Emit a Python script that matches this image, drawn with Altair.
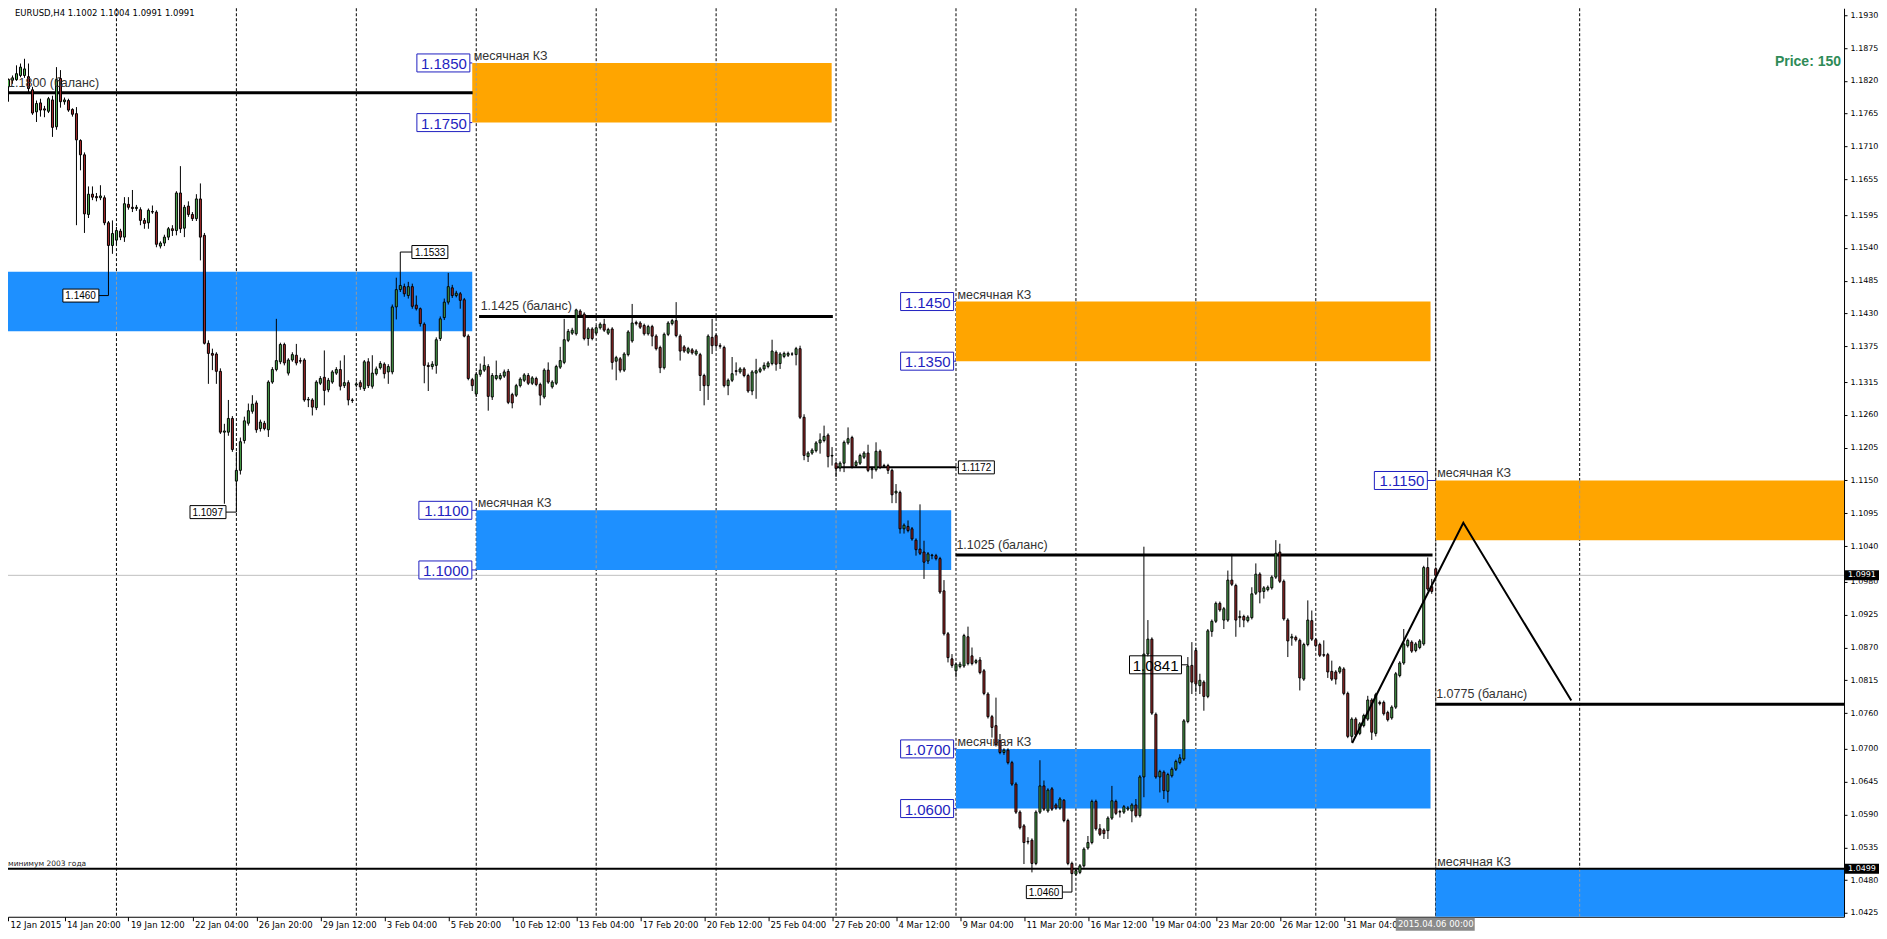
import altair as alt
import pandas as pd

# ---------------- data ----------------
bar_open = [
    1.1857, 1.1877, 1.1810, 1.1821, 1.1822, 1.1829, 1.1829, 1.1827, 1.1805, 1.1768,
    1.1783, 1.1773, 1.1769, 1.1788, 1.1743, 1.1824, 1.1785, 1.1787, 1.1772, 1.1765,
    1.1720, 1.1696, 1.1596, 1.1630, 1.1626, 1.1624, 1.1624, 1.1582, 1.1544, 1.1553,
    1.1568, 1.1558, 1.1613, 1.1608, 1.1606, 1.1604, 1.1586, 1.1582, 1.1601, 1.1600,
    1.1543, 1.1548, 1.1558, 1.1572, 1.1569, 1.1632, 1.1573, 1.1610, 1.1596, 1.1589,
    1.1622, 1.1561, 1.1380, 1.1363, 1.1362, 1.1333, 1.1231, 1.1231, 1.1254, 1.1149,
    1.1167, 1.1217, 1.1246, 1.1266, 1.1280, 1.1237, 1.1246, 1.1235, 1.1315, 1.1336,
    1.1349, 1.1378, 1.1330, 1.1352, 1.1360, 1.1351, 1.1352, 1.1285, 1.1285, 1.1272,
    1.1313, 1.1323, 1.1302, 1.1315, 1.1330, 1.1336, 1.1309, 1.1314, 1.1285, 1.1310,
    1.1314, 1.1304, 1.1349, 1.1308, 1.1329, 1.1339, 1.1345, 1.1332, 1.1332, 1.1441,
    1.1470, 1.1475, 1.1460, 1.1475, 1.1444, 1.1438, 1.1412, 1.1343, 1.1341, 1.1343,
    1.1388, 1.1423, 1.1449, 1.1473, 1.1460, 1.1463, 1.1453, 1.1392, 1.1319, 1.1295,
    1.1328, 1.1335, 1.1341, 1.1290, 1.1321, 1.1321, 1.1325, 1.1333, 1.1294, 1.1293,
    1.1309, 1.1318, 1.1326, 1.1313, 1.1321, 1.1311, 1.1290, 1.1335, 1.1307, 1.1313,
    1.1340, 1.1348, 1.1385, 1.1397, 1.1396, 1.1434, 1.1429, 1.1388, 1.1404, 1.1397,
    1.1406, 1.1412, 1.1397, 1.1404, 1.1350, 1.1354, 1.1335, 1.1361, 1.1384, 1.1415,
    1.1414, 1.1410, 1.1396, 1.1408, 1.1392, 1.1373, 1.1339, 1.1395, 1.1413, 1.1418,
    1.1392, 1.1374, 1.1365, 1.1369, 1.1362, 1.1361, 1.1326, 1.1309, 1.1390, 1.1393,
    1.1376, 1.1373, 1.1309, 1.1318, 1.1334, 1.1332, 1.1337, 1.1326, 1.1300, 1.1330,
    1.1333, 1.1337, 1.1341, 1.1346, 1.1365, 1.1346, 1.1358, 1.1360, 1.1362, 1.1361,
    1.1371, 1.1256, 1.1190, 1.1196, 1.1200, 1.1213, 1.1217, 1.1226, 1.1191, 1.1179,
    1.1171, 1.1179, 1.1213, 1.1222, 1.1175, 1.1179, 1.1189, 1.1196, 1.1168, 1.1168,
    1.1199, 1.1174, 1.1175, 1.1167, 1.1129, 1.1130, 1.1069, 1.1073, 1.1069, 1.1050,
    1.1035, 1.1030, 1.1015, 1.1024, 1.1024, 1.1019, 1.0965, 1.0893, 1.0851, 1.0831,
    1.0838, 1.0839, 1.0888, 1.0856, 1.0845, 1.0849, 1.0831, 1.0792, 1.0754, 1.0739,
    1.0714, 1.0694, 1.0698, 1.0677, 1.0641, 1.0594, 1.0571, 1.0545, 1.0547, 1.0508,
    1.0594, 1.0638, 1.0596, 1.0633, 1.0606, 1.0601, 1.0614, 1.0580, 1.0508, 1.0490,
    1.0493, 1.0504, 1.0534, 1.0543, 1.0612, 1.0566, 1.0564, 1.0563, 1.0584, 1.0612,
    1.0594, 1.0594, 1.0599, 1.0596, 1.0606, 1.0588, 1.0653, 1.0859, 1.0884, 1.0758,
    1.0653, 1.0661, 1.0629, 1.0655, 1.0666, 1.0677, 1.0683, 1.0746, 1.0840, 1.0865,
    1.0806, 1.0812, 1.0788, 1.0897, 1.0914, 1.0944, 1.0916, 1.0916, 1.0983, 1.0974,
    1.0920, 1.0922, 1.0915, 1.0920, 1.0961, 1.0993, 1.0964, 1.0967, 1.0970, 1.0988,
    1.1030, 1.0981, 1.0916, 1.0886, 1.0887, 1.0882, 1.0817, 1.0875, 1.0915, 1.0883,
    1.0875, 1.0858, 1.0858, 1.0830, 1.0829, 1.0829, 1.0834, 1.0793, 1.0721, 1.0750,
    1.0726, 1.0739, 1.0750, 1.0782, 1.0726, 1.0778, 1.0778, 1.0761, 1.0752, 1.0770,
    1.0823, 1.0844, 1.0873, 1.0879, 1.0865, 1.0870, 1.0876, 1.1004, 1.0972, 1.1002,
]
bar_high = [
    1.1868, 1.1880, 1.1824, 1.1829, 1.1846, 1.1849, 1.1857, 1.1849, 1.1810, 1.1787,
    1.1790, 1.1778, 1.1793, 1.1795, 1.1843, 1.1838, 1.1792, 1.1790, 1.1774, 1.1776,
    1.1722, 1.1700, 1.1643, 1.1643, 1.1632, 1.1645, 1.1628, 1.1585, 1.1586, 1.1575,
    1.1572, 1.1625, 1.1625, 1.1637, 1.1612, 1.1608, 1.1590, 1.1606, 1.1611, 1.1603,
    1.1551, 1.1562, 1.1575, 1.1578, 1.1635, 1.1677, 1.1612, 1.1618, 1.1600, 1.1630,
    1.1648, 1.1565, 1.1385, 1.1371, 1.1365, 1.1338, 1.1245, 1.1285, 1.1258, 1.1198,
    1.1222, 1.1257, 1.1279, 1.1293, 1.1284, 1.1252, 1.1250, 1.1318, 1.1340, 1.1421,
    1.1381, 1.1381, 1.1355, 1.1365, 1.1379, 1.1356, 1.1355, 1.1290, 1.1288, 1.1318,
    1.1325, 1.1368, 1.1322, 1.1335, 1.1340, 1.1351, 1.1360, 1.1318, 1.1288, 1.1316,
    1.1318, 1.1352, 1.1355, 1.1360, 1.1341, 1.1350, 1.1348, 1.1345, 1.1445, 1.1490,
    1.1533, 1.1480, 1.1483, 1.1480, 1.1460, 1.1440, 1.1415, 1.1348, 1.1350, 1.1390,
    1.1425, 1.1455, 1.1498, 1.1478, 1.1468, 1.1466, 1.1456, 1.1395, 1.1322, 1.1332,
    1.1346, 1.1358, 1.1345, 1.1330, 1.1351, 1.1330, 1.1336, 1.1337, 1.1297, 1.1312,
    1.1323, 1.1330, 1.1330, 1.1325, 1.1324, 1.1314, 1.1338, 1.1348, 1.1318, 1.1344,
    1.1374, 1.1421, 1.1404, 1.1406, 1.1438, 1.1437, 1.1432, 1.1407, 1.1407, 1.1410,
    1.1415, 1.1421, 1.1406, 1.1407, 1.1359, 1.1357, 1.1365, 1.1402, 1.1446, 1.1418,
    1.1417, 1.1413, 1.1411, 1.1411, 1.1395, 1.1376, 1.1398, 1.1417, 1.1421, 1.1449,
    1.1395, 1.1377, 1.1374, 1.1372, 1.1370, 1.1364, 1.1329, 1.1395, 1.1421, 1.1396,
    1.1380, 1.1376, 1.1321, 1.1357, 1.1348, 1.1340, 1.1340, 1.1329, 1.1335, 1.1354,
    1.1340, 1.1348, 1.1350, 1.1386, 1.1368, 1.1365, 1.1366, 1.1366, 1.1365, 1.1374,
    1.1376, 1.1261, 1.1199, 1.1204, 1.1216, 1.1229, 1.1242, 1.1229, 1.1206, 1.1182,
    1.1182, 1.1217, 1.1239, 1.1225, 1.1184, 1.1195, 1.1199, 1.1210, 1.1173, 1.1214,
    1.1202, 1.1178, 1.1178, 1.1170, 1.1144, 1.1133, 1.1078, 1.1083, 1.1072, 1.1053,
    1.1110, 1.1049, 1.1030, 1.1027, 1.1027, 1.1022, 1.0983, 1.0896, 1.0859, 1.0845,
    1.0846, 1.0893, 1.0905, 1.0870, 1.0851, 1.0854, 1.0834, 1.0795, 1.0757, 1.0786,
    1.0725, 1.0701, 1.0701, 1.0680, 1.0644, 1.0597, 1.0574, 1.0552, 1.0550, 1.0597,
    1.0681, 1.0647, 1.0634, 1.0636, 1.0609, 1.0619, 1.0616, 1.0583, 1.0511, 1.0499,
    1.0507, 1.0535, 1.0554, 1.0615, 1.0615, 1.0574, 1.0567, 1.0587, 1.0638, 1.0615,
    1.0598, 1.0606, 1.0604, 1.0609, 1.0616, 1.0656, 1.1039, 1.0916, 1.0887, 1.0761,
    1.0665, 1.0664, 1.0660, 1.0669, 1.0682, 1.0691, 1.0750, 1.0854, 1.0879, 1.0870,
    1.0826, 1.0815, 1.0901, 1.0917, 1.0947, 1.0947, 1.0938, 1.0999, 1.1027, 1.0977,
    1.0932, 1.0925, 1.0924, 1.0971, 1.1011, 1.0996, 1.0973, 1.0974, 1.0991, 1.1050,
    1.1044, 1.0984, 1.0919, 1.0893, 1.0890, 1.0885, 1.0878, 1.0949, 1.0932, 1.0886,
    1.0878, 1.0882, 1.0861, 1.0848, 1.0832, 1.0839, 1.0837, 1.0796, 1.0753, 1.0753,
    1.0745, 1.0759, 1.0789, 1.0785, 1.0794, 1.0781, 1.0781, 1.0764, 1.0773, 1.0829,
    1.0847, 1.0901, 1.0885, 1.0882, 1.0879, 1.0884, 1.1007, 1.1021, 1.0985, 1.1004,
]
bar_low = [
    1.1849, 1.1795, 1.1785, 1.1815, 1.1820, 1.1826, 1.1825, 1.1799, 1.1763, 1.1751,
    1.1760, 1.1759, 1.1766, 1.1726, 1.1738, 1.1775, 1.1780, 1.1768, 1.1760, 1.1578,
    1.1670, 1.1565, 1.1590, 1.1620, 1.1618, 1.1620, 1.1578, 1.1460, 1.1530, 1.1545,
    1.1553, 1.1550, 1.1604, 1.1600, 1.1602, 1.1578, 1.1572, 1.1572, 1.1597, 1.1541,
    1.1539, 1.1543, 1.1553, 1.1560, 1.1561, 1.1565, 1.1558, 1.1592, 1.1585, 1.1585,
    1.1519, 1.1378, 1.1312, 1.1335, 1.1312, 1.1228, 1.1111, 1.1225, 1.1198, 1.1097,
    1.1160, 1.1212, 1.1242, 1.1262, 1.1230, 1.1232, 1.1234, 1.1223, 1.1312, 1.1333,
    1.1345, 1.1343, 1.1326, 1.1349, 1.1343, 1.1346, 1.1282, 1.1273, 1.1259, 1.1268,
    1.1310, 1.1276, 1.1298, 1.1312, 1.1327, 1.1301, 1.1305, 1.1276, 1.1280, 1.1306,
    1.1302, 1.1300, 1.1305, 1.1304, 1.1326, 1.1336, 1.1321, 1.1312, 1.1328, 1.1420,
    1.1466, 1.1458, 1.1455, 1.1438, 1.1435, 1.1408, 1.1313, 1.1300, 1.1336, 1.1329,
    1.1384, 1.1419, 1.1445, 1.1456, 1.1457, 1.1438, 1.1390, 1.1318, 1.1300, 1.1290,
    1.1324, 1.1332, 1.1267, 1.1285, 1.1318, 1.1318, 1.1322, 1.1278, 1.1271, 1.1290,
    1.1306, 1.1315, 1.1310, 1.1310, 1.1308, 1.1276, 1.1287, 1.1312, 1.1304, 1.1310,
    1.1337, 1.1345, 1.1382, 1.1394, 1.1393, 1.1423, 1.1385, 1.1376, 1.1385, 1.1394,
    1.1403, 1.1399, 1.1394, 1.1336, 1.1318, 1.1331, 1.1332, 1.1358, 1.1381, 1.1410,
    1.1404, 1.1393, 1.1393, 1.1375, 1.1368, 1.1330, 1.1336, 1.1392, 1.1410, 1.1390,
    1.1351, 1.1364, 1.1362, 1.1361, 1.1359, 1.1300, 1.1276, 1.1285, 1.1362, 1.1372,
    1.1371, 1.1306, 1.1293, 1.1315, 1.1326, 1.1329, 1.1323, 1.1297, 1.1293, 1.1287,
    1.1330, 1.1334, 1.1338, 1.1343, 1.1334, 1.1337, 1.1355, 1.1357, 1.1359, 1.1343,
    1.1253, 1.1184, 1.1181, 1.1193, 1.1197, 1.1195, 1.1214, 1.1172, 1.1175, 1.1156,
    1.1165, 1.1164, 1.1210, 1.1170, 1.1172, 1.1176, 1.1186, 1.1164, 1.1153, 1.1165,
    1.1169, 1.1171, 1.1161, 1.1112, 1.1112, 1.1061, 1.1061, 1.1063, 1.1049, 1.1024,
    1.1025, 1.0985, 1.1010, 1.1018, 1.1016, 1.0960, 1.0890, 1.0845, 1.0836, 1.0820,
    1.0835, 1.0836, 1.0840, 1.0840, 1.0842, 1.0825, 1.0790, 1.0751, 1.0719, 1.0704,
    1.0691, 1.0690, 1.0674, 1.0638, 1.0591, 1.0565, 1.0507, 1.0540, 1.0493, 1.0505,
    1.0591, 1.0596, 1.0593, 1.0596, 1.0598, 1.0598, 1.0577, 1.0505, 1.0460, 1.0487,
    1.0490, 1.0501, 1.0531, 1.0540, 1.0563, 1.0554, 1.0549, 1.0549, 1.0581, 1.0589,
    1.0585, 1.0591, 1.0596, 1.0577, 1.0585, 1.0585, 1.0619, 1.0855, 1.0757, 1.0650,
    1.0627, 1.0616, 1.0610, 1.0652, 1.0663, 1.0674, 1.0680, 1.0743, 1.0792, 1.0795,
    1.0792, 1.0764, 1.0785, 1.0888, 1.0911, 1.0930, 1.0901, 1.0913, 1.0973, 1.0888,
    1.0904, 1.0904, 1.0912, 1.0917, 1.0958, 1.0944, 1.0952, 1.0964, 1.0967, 1.0985,
    1.0978, 1.0915, 1.0854, 1.0873, 1.0880, 1.0798, 1.0814, 1.0872, 1.0881, 1.0870,
    1.0854, 1.0854, 1.0819, 1.0814, 1.0808, 1.0826, 1.0790, 1.0718, 1.0711, 1.0721,
    1.0723, 1.0736, 1.0747, 1.0715, 1.0721, 1.0773, 1.0756, 1.0746, 1.0749, 1.0767,
    1.0820, 1.0841, 1.0870, 1.0861, 1.0862, 1.0867, 1.0873, 1.0965, 1.0960, 1.0991,
]
bar_close = [
    1.1854, 1.1801, 1.1822, 1.1825, 1.1832, 1.1843, 1.1840, 1.1807, 1.1766, 1.1782,
    1.1771, 1.1771, 1.1790, 1.1742, 1.1822, 1.1785, 1.1788, 1.1771, 1.1764, 1.1721,
    1.1696, 1.1597, 1.1630, 1.1625, 1.1624, 1.1627, 1.1582, 1.1544, 1.1564, 1.1569,
    1.1558, 1.1614, 1.1608, 1.1606, 1.1608, 1.1586, 1.1581, 1.1603, 1.1600, 1.1546,
    1.1548, 1.1558, 1.1572, 1.1569, 1.1632, 1.1572, 1.1608, 1.1596, 1.1589, 1.1622,
    1.1558, 1.1380, 1.1363, 1.1360, 1.1333, 1.1231, 1.1233, 1.1254, 1.1202, 1.1167,
    1.1215, 1.1250, 1.1267, 1.1278, 1.1235, 1.1248, 1.1237, 1.1315, 1.1336, 1.1351,
    1.1378, 1.1347, 1.1352, 1.1361, 1.1347, 1.1350, 1.1285, 1.1286, 1.1273, 1.1315,
    1.1321, 1.1301, 1.1318, 1.1332, 1.1336, 1.1308, 1.1314, 1.1285, 1.1284, 1.1312,
    1.1307, 1.1349, 1.1309, 1.1330, 1.1337, 1.1346, 1.1329, 1.1341, 1.1441, 1.1470,
    1.1477, 1.1463, 1.1475, 1.1442, 1.1438, 1.1413, 1.1343, 1.1341, 1.1345, 1.1386,
    1.1421, 1.1449, 1.1475, 1.1460, 1.1464, 1.1452, 1.1392, 1.1321, 1.1309, 1.1328,
    1.1335, 1.1343, 1.1291, 1.1326, 1.1326, 1.1326, 1.1332, 1.1281, 1.1280, 1.1309,
    1.1320, 1.1327, 1.1313, 1.1322, 1.1311, 1.1293, 1.1335, 1.1315, 1.1315, 1.1341,
    1.1351, 1.1386, 1.1400, 1.1402, 1.1436, 1.1427, 1.1388, 1.1404, 1.1388, 1.1406,
    1.1412, 1.1402, 1.1403, 1.1348, 1.1356, 1.1335, 1.1362, 1.1399, 1.1414, 1.1413,
    1.1407, 1.1396, 1.1408, 1.1392, 1.1371, 1.1339, 1.1395, 1.1414, 1.1418, 1.1393,
    1.1367, 1.1367, 1.1371, 1.1364, 1.1367, 1.1326, 1.1309, 1.1392, 1.1376, 1.1376,
    1.1375, 1.1309, 1.1318, 1.1329, 1.1333, 1.1337, 1.1326, 1.1300, 1.1332, 1.1334,
    1.1337, 1.1343, 1.1347, 1.1367, 1.1345, 1.1362, 1.1363, 1.1363, 1.1362, 1.1371,
    1.1256, 1.1192, 1.1196, 1.1201, 1.1213, 1.1218, 1.1224, 1.1190, 1.1192, 1.1170,
    1.1179, 1.1214, 1.1220, 1.1173, 1.1181, 1.1192, 1.1196, 1.1167, 1.1170, 1.1199,
    1.1172, 1.1175, 1.1167, 1.1126, 1.1132, 1.1069, 1.1075, 1.1066, 1.1052, 1.1034,
    1.1028, 1.1013, 1.1027, 1.1025, 1.1019, 1.0963, 1.0893, 1.0853, 1.0840, 1.0842,
    1.0842, 1.0890, 1.0843, 1.0843, 1.0848, 1.0828, 1.0793, 1.0754, 1.0736, 1.0707,
    1.0694, 1.0698, 1.0677, 1.0641, 1.0594, 1.0568, 1.0543, 1.0544, 1.0508, 1.0594,
    1.0638, 1.0599, 1.0631, 1.0599, 1.0601, 1.0616, 1.0580, 1.0508, 1.0491, 1.0496,
    1.0504, 1.0532, 1.0543, 1.0612, 1.0566, 1.0557, 1.0558, 1.0584, 1.0613, 1.0592,
    1.0595, 1.0603, 1.0601, 1.0606, 1.0588, 1.0653, 1.0859, 1.0884, 1.0760, 1.0653,
    1.0662, 1.0630, 1.0657, 1.0666, 1.0679, 1.0685, 1.0747, 1.0839, 1.0812, 1.0809,
    1.0815, 1.0788, 1.0898, 1.0914, 1.0944, 1.0933, 1.0935, 1.0983, 1.0976, 1.0916,
    1.0922, 1.0916, 1.0921, 1.0960, 1.0993, 1.0963, 1.0970, 1.0971, 1.0988, 1.1028,
    1.0981, 1.0918, 1.0881, 1.0888, 1.0883, 1.0819, 1.0875, 1.0916, 1.0884, 1.0873,
    1.0857, 1.0857, 1.0829, 1.0817, 1.0817, 1.0836, 1.0793, 1.0721, 1.0750, 1.0724,
    1.0742, 1.0756, 1.0782, 1.0728, 1.0791, 1.0776, 1.0759, 1.0749, 1.0770, 1.0826,
    1.0844, 1.0876, 1.0882, 1.0864, 1.0876, 1.0881, 1.1004, 1.0968, 1.0964, 1.0991,
]

date_labels = ["12 Jan 2015", "14 Jan 20:00", "19 Jan 12:00", "22 Jan 04:00", "26 Jan 20:00",
               "29 Jan 12:00", "3 Feb 04:00", "5 Feb 20:00", "10 Feb 12:00", "13 Feb 04:00",
               "17 Feb 20:00", "20 Feb 12:00", "25 Feb 04:00", "27 Feb 20:00", "4 Mar 12:00",
               "9 Mar 04:00", "11 Mar 20:00", "16 Mar 12:00", "19 Mar 04:00", "23 Mar 20:00",
               "26 Mar 12:00", "31 Mar 04:00"]
date_step = 16

price_ticks = [1.1930, 1.1875, 1.1820, 1.1765, 1.1710, 1.1655, 1.1595, 1.1540, 1.1485, 1.1430,
               1.1375, 1.1315, 1.1260, 1.1205, 1.1150, 1.1095, 1.1040, 1.0980, 1.0925, 1.0870,
               1.0815, 1.0760, 1.0700, 1.0645, 1.0590, 1.0535, 1.0480, 1.0425]

separator_bars = [29, 59, 89, 119, 149, 179, 209, 239, 269, 299, 329, 359, 395]
current_bar = 359
current_time_text = "2015.04.06 00:00"
current_price = 1.0991
min2003_price = 1.0499
header_text = "EURUSD,H4  1.1002 1.1004 1.0991 1.0991"
price_note = "Price: 150"

# visible window (the page margin hides the first 8 px of the terminal window)
W, H = 1837, 909
X_MIN, X_MAX = 1.875, 461.125
Y_MIN, Y_MAX = 1.04186, 1.19417

zone_start = [0, 118, 119, 239, 239, 359, 359]
zone_end = [118, 207.9, 237.8, 357.7, 357.7, X_MAX, X_MAX]
zone_top = [1.1500, 1.1850, 1.1100, 1.1450, 1.0700, 1.1150, 1.0499]
zone_bottom = [1.1400, 1.1750, 1.1000, 1.1350, 1.0600, 1.1050, Y_MIN]
zone_kind = ["blue", "orange", "blue", "orange", "blue", "orange", "blue"]
zone_note = ["", "месячная КЗ", "месячная КЗ", "месячная КЗ", "месячная КЗ", "месячная КЗ", "месячная КЗ"]

level_start = [0, 119.7, 238.9, 358.9, 209.0, 0]
level_end = [118.1, 208.2, 358.2, X_MAX, 239.1, X_MAX]
level_price = [1.1800, 1.1425, 1.1025, 1.0775, 1.1172, 1.0499]
level_width = [3, 3, 3, 3, 2, 2]

balance_text = ["1.1800 (баланс)", "1.1425 (баланс)", "1.1025 (баланс)", "1.0775 (баланс)"]
balance_bar = [1.9, 120.1, 239.1, 359.1]
balance_price = [1.1800, 1.1425, 1.1025, 1.0775]

zlabel_price = [1.1850, 1.1750, 1.1100, 1.1000, 1.1450, 1.1350, 1.0700, 1.0600, 1.1150]
zlabel_anchor = [117.4, 117.4, 117.9, 117.9, 238.4, 238.4, 238.4, 238.4, 356.9]
zlabel_zone = [118, 118, 119, 119, 239, 239, 239, 239, 359]

extreme_r_text = ["1.1460", "1.1097", "1.0460"]
extreme_r_price = [1.1460, 1.1097, 1.0460]
extreme_r_edge = [24.6, 56.4, 265.6]
extreme_r_bar = [27, 59, 268]

extreme_l_text = ["1.1533", "1.1172"]
extreme_l_price = [1.1533, 1.1172]
extreme_l_edge = [102.9, 239.6]
extreme_l_bar = [100, 239.1]

big_text = ["1.0841"]
big_price = [1.0841]
big_edge = [295.4]
big_bar = [297]

trend_bar = [338.1, 365.9, 392.9]
trend_price = [1.0710, 1.1079, 1.0781]

axis_box_price = [1.0991, 1.0499]

# ---------------- styling ----------------
ORANGE = "#FFA500"
BLUE = "#1E90FF"
LABEL_BLUE = "#1F1FC0"
BULL = "#4DAA4D"
BEAR = "#A52A2A"
TXT = "#333333"

xs = alt.Scale(domain=[X_MIN, X_MAX], nice=False, zero=False, padding=0)
ys = alt.Scale(domain=[Y_MIN, Y_MAX], nice=False, zero=False, padding=0)

label_expr = "[" + ",".join(f"'{d}'" for d in date_labels) + f"][round(datum.value/{date_step})]"
x_axis = alt.Axis(values=[max(i * date_step, X_MIN) for i in range(len(date_labels))],
                  labelExpr=label_expr,
                  orient="bottom", domain=True, domainColor="black", domainWidth=1,
                  ticks=True, tickColor="black", tickSize=4, tickWidth=1,
                  labelAlign="left", labelBaseline="top", labelOffset=2, labelPadding=0,
                  labelFont="DejaVu Sans", labelFontSize=8.5, labelColor="black",
                  labelOverlap=False, labelFlush=False, labelBound=False, grid=False)
y_axis = alt.Axis(values=price_ticks, format=".4f", orient="right", domain=True,
                  domainColor="black", domainWidth=1, ticks=True, tickColor="black", tickSize=3,
                  labelPadding=3, labelFont="DejaVu Sans", labelFontSize=8, labelColor="black",
                  labelBaseline="middle", labelOverlap=False, labelFlush=False, labelBound=False,
                  grid=False)


def xq(f):
    return alt.X(f"{f}:Q", scale=xs, axis=x_axis, title=None)


def yq(f):
    return alt.Y(f"{f}:Q", scale=ys, axis=y_axis, title=None)


candles = pd.DataFrame({"bar": list(range(len(bar_open))), "open": bar_open, "high": bar_high,
                        "low": bar_low, "close": bar_close})
candles["col"] = [BULL if c >= o else BEAR for o, c in zip(bar_open, bar_close)]

now_df = pd.DataFrame({"bar": [current_bar], "text": [current_time_text]})
now_line = alt.Chart(now_df).mark_rule(color="#8c8c8c", strokeWidth=1).encode(
    x=xq("bar"), y=alt.value(0), y2=alt.value(H))

sep_df = pd.DataFrame({"bar": separator_bars})
sep_layer = alt.Chart(sep_df).mark_rule(color="black", strokeWidth=1, strokeDash=[3, 2]).encode(
    x=xq("bar"), y=alt.value(0), y2=alt.value(H))

zones = pd.DataFrame({"x0": zone_start, "x1": zone_end, "top": zone_top, "bot": zone_bottom,
                      "col": [ORANGE if k == "orange" else BLUE for k in zone_kind],
                      "note": zone_note})
zone_layer = alt.Chart(zones).mark_rect().encode(
    x=xq("x0"), x2=alt.X2("x1"), y=yq("top"), y2=alt.Y2("bot"),
    fill=alt.Fill("col:N", scale=None))

zs_rows = []
for x0, x1, t, b in zip(zone_start, zone_end, zone_top, zone_bottom):
    for s in separator_bars:
        if x0 < s < x1:
            zs_rows.append({"bar": s, "top": t, "bot": b})
zone_sep = alt.Chart(pd.DataFrame(zs_rows)).mark_rule(color="#9a9a9a", strokeWidth=1,
                                                      strokeDash=[3, 2]).encode(
    x=xq("bar"), y=yq("top"), y2=alt.Y2("bot"))

bid = alt.Chart(pd.DataFrame({"price": [current_price]})).mark_rule(
    color="#c0c0c0", strokeWidth=1).encode(y=yq("price"), x=alt.value(0), x2=alt.value(W))

levels = pd.DataFrame({"x0": level_start, "x1": level_end, "price": level_price, "w": level_width})
levels_layer = alt.Chart(levels).mark_rule(color="black").encode(
    x=xq("x0"), x2=alt.X2("x1"), y=yq("price"),
    strokeWidth=alt.StrokeWidth("w:Q", scale=None))

wicks = alt.Chart(candles).mark_rule(color="black", strokeWidth=1).encode(
    x=xq("bar"), y=yq("low"), y2=alt.Y2("high"))
bodies = alt.Chart(candles).mark_bar(size=2, stroke="black", strokeWidth=1).encode(
    x=xq("bar"), y=yq("open"), y2=alt.Y2("close"), fill=alt.Fill("col:N", scale=None))

trend = alt.Chart(pd.DataFrame({"bar": trend_bar, "price": trend_price,
                                "k": list(range(len(trend_bar)))})).mark_line(
    color="black", strokeWidth=2).encode(x=xq("bar"), y=yq("price"), order="k:Q")

bal_df = pd.DataFrame({"text": balance_text, "bar": balance_bar, "price": balance_price})
bal_layer = alt.Chart(bal_df).mark_text(align="left", baseline="alphabetic", dy=-6,
                                        font="Liberation Sans", fontSize=12.5, color=TXT).encode(
    x=xq("bar"), y=yq("price"), text="text:N")

kz_layer = alt.Chart(zones[zones["note"] != ""]).mark_text(
    align="left", baseline="alphabetic", dx=1.5, dy=-3, font="Liberation Sans", fontSize=12.5,
    color=TXT).encode(x=xq("x0"), y=yq("top"), text="note:N")

min_layer = alt.Chart(pd.DataFrame({"bar": [1.9], "price": [min2003_price],
                                    "text": ["минимум 2003 года"]})).mark_text(
    align="left", baseline="alphabetic", dy=-3, font="DejaVu Sans", fontSize=7.5,
    color="#222222").encode(x=xq("bar"), y=yq("price"), text="text:N")

zl = pd.DataFrame({"price": zlabel_price, "anchor": zlabel_anchor, "zone": zlabel_zone,
                   "text": [f"{p:.4f}" for p in zlabel_price]})
zl_tick = alt.Chart(zl).mark_rule(color=LABEL_BLUE, strokeWidth=1).encode(
    x=xq("anchor"), x2=alt.X2("zone"), y=yq("price"))
zl_box = alt.Chart(zl).mark_rect(fill="white", stroke=LABEL_BLUE, strokeWidth=1, xOffset=-53,
                                 x2Offset=0, yOffset=-9, y2Offset=9).encode(
    x=xq("anchor"), x2=alt.X2("anchor"), y=yq("price"), y2=alt.Y2("price"))
zl_text = alt.Chart(zl).mark_text(align="right", baseline="middle", dx=-3, dy=1,
                                  font="Liberation Sans", fontSize=15, color=LABEL_BLUE).encode(
    x=xq("anchor"), y=yq("price"), text="text:N")

er = pd.DataFrame({"text": extreme_r_text, "price": extreme_r_price, "edge": extreme_r_edge,
                   "bar": extreme_r_bar})
er_conn = alt.Chart(er).mark_rule(color="black", strokeWidth=1).encode(
    x=xq("edge"), x2=alt.X2("bar"), y=yq("price"))
er_box = alt.Chart(er).mark_rect(fill="white", stroke="black", strokeWidth=1, xOffset=-36,
                                 x2Offset=0, yOffset=-6.5, y2Offset=6.5).encode(
    x=xq("edge"), x2=alt.X2("edge"), y=yq("price"), y2=alt.Y2("price"))
er_text = alt.Chart(er).mark_text(align="right", baseline="middle", dx=-3, dy=0.5,
                                  font="Liberation Sans", fontSize=10, color="black").encode(
    x=xq("edge"), y=yq("price"), text="text:N")

el = pd.DataFrame({"text": extreme_l_text, "price": extreme_l_price, "edge": extreme_l_edge,
                   "bar": extreme_l_bar})
el_conn = alt.Chart(el).mark_rule(color="black", strokeWidth=1).encode(
    x=xq("bar"), x2=alt.X2("edge"), y=yq("price"))
el_box = alt.Chart(el).mark_rect(fill="white", stroke="black", strokeWidth=1, xOffset=0,
                                 x2Offset=36, yOffset=-6.5, y2Offset=6.5).encode(
    x=xq("edge"), x2=alt.X2("edge"), y=yq("price"), y2=alt.Y2("price"))
el_text = alt.Chart(el).mark_text(align="left", baseline="middle", dx=3, dy=0.5,
                                  font="Liberation Sans", fontSize=10, color="black").encode(
    x=xq("edge"), y=yq("price"), text="text:N")

bg = pd.DataFrame({"text": big_text, "price": big_price, "edge": big_edge, "bar": big_bar})
bg_conn = alt.Chart(bg).mark_rule(color="black", strokeWidth=1).encode(
    x=xq("edge"), x2=alt.X2("bar"), y=yq("price"))
bg_box = alt.Chart(bg).mark_rect(fill="transparent", stroke="black", strokeWidth=1, xOffset=-52,
                                 x2Offset=0, yOffset=-9, y2Offset=9).encode(
    x=xq("edge"), x2=alt.X2("edge"), y=yq("price"), y2=alt.Y2("price"))
bg_text = alt.Chart(bg).mark_text(align="right", baseline="middle", dx=-3, dy=1,
                                  font="Liberation Sans", fontSize=15, color="black").encode(
    x=xq("edge"), y=yq("price"), text="text:N")

ab = pd.DataFrame({"price": axis_box_price, "text": [f"{p:.4f}" for p in axis_box_price]})
ab_box = alt.Chart(ab).mark_rect(color="black", yOffset=-5, y2Offset=5).encode(
    x=alt.value(W + 1), x2=alt.value(W + 35), y=yq("price"), y2=alt.Y2("price"))
ab_text = alt.Chart(ab).mark_text(align="left", baseline="middle", font="DejaVu Sans",
                                  fontSize=8, color="white").encode(
    x=alt.value(W + 4), y=yq("price"), text="text:N")

tl_box = alt.Chart(now_df).mark_rect(color="#8a8a8a", xOffset=-40, x2Offset=39).encode(
    x=xq("bar"), x2=alt.X2("bar"), y=alt.value(H + 1), y2=alt.value(H + 14))
tl_text = alt.Chart(now_df).mark_text(align="center", baseline="middle", font="DejaVu Sans",
                                      fontSize=8.5, color="white").encode(
    x=xq("bar"), y=alt.value(H + 7.5), text="text:N")

hdr = pd.DataFrame({"text": [header_text]})
hdr_text = alt.Chart(hdr).mark_text(align="left", baseline="middle", font="DejaVu Sans",
                                    fontSize=8.5, color="black").encode(
    x=alt.value(7), y=alt.value(5), text="text:N")

pn = alt.Chart(pd.DataFrame({"text": [price_note]})).mark_text(
    align="right", baseline="middle", font="Liberation Sans", fontWeight="bold", fontSize=14,
    color="#2E8B57").encode(x=alt.value(W - 3), y=alt.value(54), text="text:N")

chart = alt.layer(
    now_line, sep_layer, zone_layer, zone_sep, bid, levels_layer, wicks, bodies, trend,
    bal_layer, kz_layer, min_layer, zl_tick, zl_box, zl_text, er_conn, er_box, er_text,
    el_conn, el_box, el_text, bg_conn, bg_box, bg_text, ab_box, ab_text, tl_box, tl_text,
    hdr_text, pn
).properties(
    width=W, height=H,
    autosize=alt.AutoSizeParams(type="none"),
    padding={"left": 0, "top": 0, "right": 35, "bottom": 14}
).configure_view(strokeWidth=0)

chart.save("out.html", embed_options={"renderer": "svg", "actions": False})
